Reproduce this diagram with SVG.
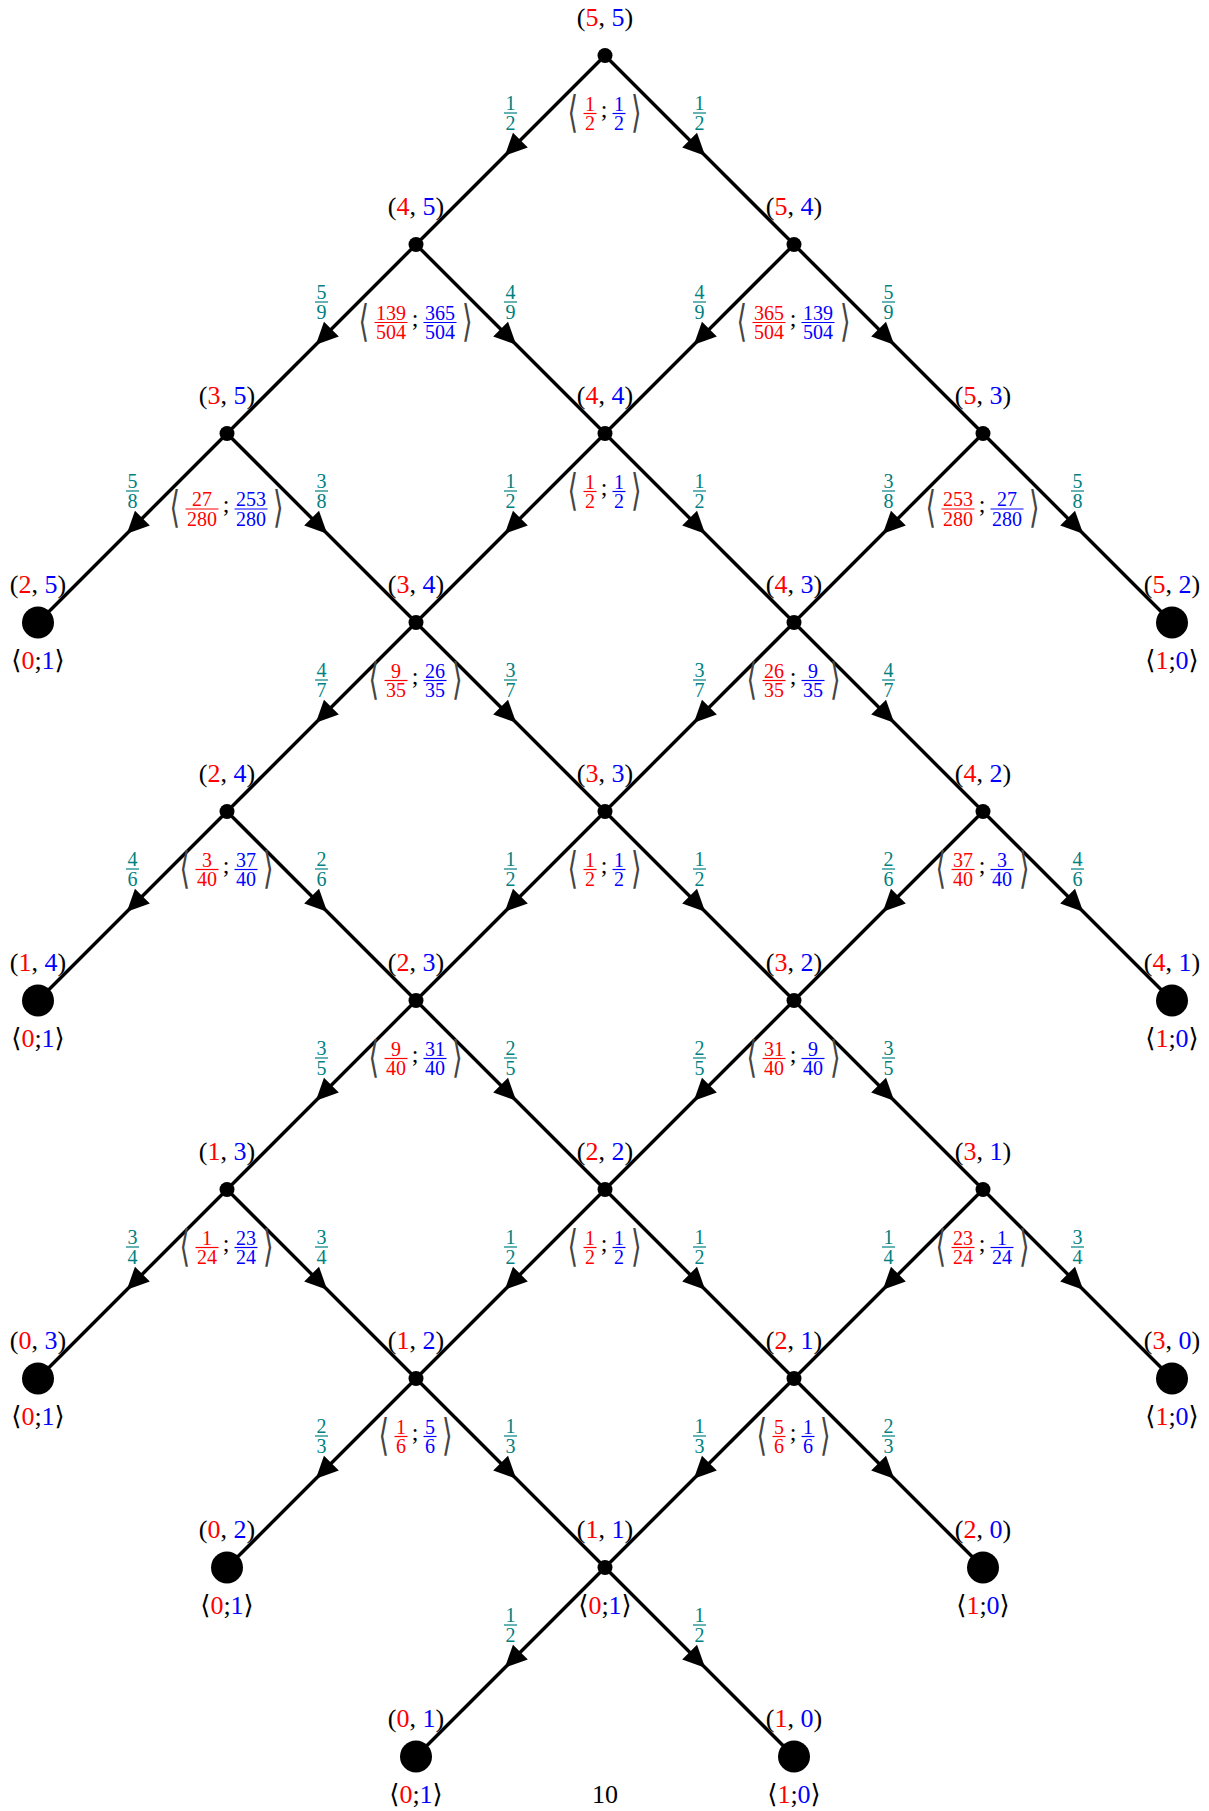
<svg xmlns="http://www.w3.org/2000/svg" width="1209" height="1811" viewBox="0 0 1209 1811">
<style>
.e{stroke:#000;stroke-width:3.4;fill:none;marker-mid:url(#arr)}
.t{font-family:"Liberation Serif","DejaVu Serif",serif;font-size:26px;text-anchor:middle;fill:#000}
.r{fill:#ff0000}
.b{fill:#0000ff}
.q text{font-family:"Liberation Serif",serif;font-size:20px;text-anchor:middle;fill:#008080}
.q path{stroke:#008080;stroke-width:1.2}
.fr text{font-family:"Liberation Serif",serif;font-size:20px;text-anchor:middle}
.fr.r path{stroke:#ff0000;stroke-width:1.2}
.fr.b path{stroke:#0000ff;stroke-width:1.2}
.br{font-family:"DejaVu Sans",sans-serif;font-size:30px;text-anchor:middle;fill:#444}
.sc{font-family:"Liberation Serif",serif;font-size:24px;text-anchor:middle;fill:#000}
</style>
<defs>
<marker id="arr" viewBox="-15 -12 25 24" refX="0" refY="0" markerWidth="25" markerHeight="24" markerUnits="userSpaceOnUse" orient="auto"><path d="M8,0 L-14,-10.5 L-14,10.5 Z" fill="#000"/></marker>
</defs>
<g id="connectors">
<path class="e" d="M605 55.5 L510.5 150 L416 244.5"/>
<path class="e" d="M605 55.5 L699.5 150 L794 244.5"/>
<path class="e" d="M416 244.5 L321.5 339 L227 433.5"/>
<path class="e" d="M416 244.5 L510.5 339 L605 433.5"/>
<path class="e" d="M794 244.5 L699.5 339 L605 433.5"/>
<path class="e" d="M794 244.5 L888.5 339 L983 433.5"/>
<path class="e" d="M227 433.5 L132.5 528 L38 622.5"/>
<path class="e" d="M227 433.5 L321.5 528 L416 622.5"/>
<path class="e" d="M605 433.5 L510.5 528 L416 622.5"/>
<path class="e" d="M605 433.5 L699.5 528 L794 622.5"/>
<path class="e" d="M983 433.5 L888.5 528 L794 622.5"/>
<path class="e" d="M983 433.5 L1077.5 528 L1172 622.5"/>
<path class="e" d="M416 622.5 L321.5 717 L227 811.5"/>
<path class="e" d="M416 622.5 L510.5 717 L605 811.5"/>
<path class="e" d="M794 622.5 L699.5 717 L605 811.5"/>
<path class="e" d="M794 622.5 L888.5 717 L983 811.5"/>
<path class="e" d="M227 811.5 L132.5 906 L38 1000.5"/>
<path class="e" d="M227 811.5 L321.5 906 L416 1000.5"/>
<path class="e" d="M605 811.5 L510.5 906 L416 1000.5"/>
<path class="e" d="M605 811.5 L699.5 906 L794 1000.5"/>
<path class="e" d="M983 811.5 L888.5 906 L794 1000.5"/>
<path class="e" d="M983 811.5 L1077.5 906 L1172 1000.5"/>
<path class="e" d="M416 1000.5 L321.5 1095 L227 1189.5"/>
<path class="e" d="M416 1000.5 L510.5 1095 L605 1189.5"/>
<path class="e" d="M794 1000.5 L699.5 1095 L605 1189.5"/>
<path class="e" d="M794 1000.5 L888.5 1095 L983 1189.5"/>
<path class="e" d="M227 1189.5 L132.5 1284 L38 1378.5"/>
<path class="e" d="M227 1189.5 L321.5 1284 L416 1378.5"/>
<path class="e" d="M605 1189.5 L510.5 1284 L416 1378.5"/>
<path class="e" d="M605 1189.5 L699.5 1284 L794 1378.5"/>
<path class="e" d="M983 1189.5 L888.5 1284 L794 1378.5"/>
<path class="e" d="M983 1189.5 L1077.5 1284 L1172 1378.5"/>
<path class="e" d="M416 1378.5 L321.5 1473 L227 1567.5"/>
<path class="e" d="M416 1378.5 L510.5 1473 L605 1567.5"/>
<path class="e" d="M794 1378.5 L699.5 1473 L605 1567.5"/>
<path class="e" d="M794 1378.5 L888.5 1473 L983 1567.5"/>
<path class="e" d="M605 1567.5 L510.5 1662 L416 1756.5"/>
<path class="e" d="M605 1567.5 L699.5 1662 L794 1756.5"/>
</g>
<g id="edge-labels">
<g class="q" transform="translate(510.5,113)"><text y="-3">1</text><path d="M-6.5 0H6.5"/><text y="16.5">2</text></g>
<g class="q" transform="translate(699.5,113)"><text y="-3">1</text><path d="M-6.5 0H6.5"/><text y="16.5">2</text></g>
<g class="q" transform="translate(321.5,302)"><text y="-3">5</text><path d="M-6.5 0H6.5"/><text y="16.5">9</text></g>
<g class="q" transform="translate(510.5,302)"><text y="-3">4</text><path d="M-6.5 0H6.5"/><text y="16.5">9</text></g>
<g class="q" transform="translate(699.5,302)"><text y="-3">4</text><path d="M-6.5 0H6.5"/><text y="16.5">9</text></g>
<g class="q" transform="translate(888.5,302)"><text y="-3">5</text><path d="M-6.5 0H6.5"/><text y="16.5">9</text></g>
<g class="q" transform="translate(132.5,491)"><text y="-3">5</text><path d="M-6.5 0H6.5"/><text y="16.5">8</text></g>
<g class="q" transform="translate(321.5,491)"><text y="-3">3</text><path d="M-6.5 0H6.5"/><text y="16.5">8</text></g>
<g class="q" transform="translate(510.5,491)"><text y="-3">1</text><path d="M-6.5 0H6.5"/><text y="16.5">2</text></g>
<g class="q" transform="translate(699.5,491)"><text y="-3">1</text><path d="M-6.5 0H6.5"/><text y="16.5">2</text></g>
<g class="q" transform="translate(888.5,491)"><text y="-3">3</text><path d="M-6.5 0H6.5"/><text y="16.5">8</text></g>
<g class="q" transform="translate(1077.5,491)"><text y="-3">5</text><path d="M-6.5 0H6.5"/><text y="16.5">8</text></g>
<g class="q" transform="translate(321.5,680)"><text y="-3">4</text><path d="M-6.5 0H6.5"/><text y="16.5">7</text></g>
<g class="q" transform="translate(510.5,680)"><text y="-3">3</text><path d="M-6.5 0H6.5"/><text y="16.5">7</text></g>
<g class="q" transform="translate(699.5,680)"><text y="-3">3</text><path d="M-6.5 0H6.5"/><text y="16.5">7</text></g>
<g class="q" transform="translate(888.5,680)"><text y="-3">4</text><path d="M-6.5 0H6.5"/><text y="16.5">7</text></g>
<g class="q" transform="translate(132.5,869)"><text y="-3">4</text><path d="M-6.5 0H6.5"/><text y="16.5">6</text></g>
<g class="q" transform="translate(321.5,869)"><text y="-3">2</text><path d="M-6.5 0H6.5"/><text y="16.5">6</text></g>
<g class="q" transform="translate(510.5,869)"><text y="-3">1</text><path d="M-6.5 0H6.5"/><text y="16.5">2</text></g>
<g class="q" transform="translate(699.5,869)"><text y="-3">1</text><path d="M-6.5 0H6.5"/><text y="16.5">2</text></g>
<g class="q" transform="translate(888.5,869)"><text y="-3">2</text><path d="M-6.5 0H6.5"/><text y="16.5">6</text></g>
<g class="q" transform="translate(1077.5,869)"><text y="-3">4</text><path d="M-6.5 0H6.5"/><text y="16.5">6</text></g>
<g class="q" transform="translate(321.5,1058)"><text y="-3">3</text><path d="M-6.5 0H6.5"/><text y="16.5">5</text></g>
<g class="q" transform="translate(510.5,1058)"><text y="-3">2</text><path d="M-6.5 0H6.5"/><text y="16.5">5</text></g>
<g class="q" transform="translate(699.5,1058)"><text y="-3">2</text><path d="M-6.5 0H6.5"/><text y="16.5">5</text></g>
<g class="q" transform="translate(888.5,1058)"><text y="-3">3</text><path d="M-6.5 0H6.5"/><text y="16.5">5</text></g>
<g class="q" transform="translate(132.5,1247)"><text y="-3">3</text><path d="M-6.5 0H6.5"/><text y="16.5">4</text></g>
<g class="q" transform="translate(321.5,1247)"><text y="-3">3</text><path d="M-6.5 0H6.5"/><text y="16.5">4</text></g>
<g class="q" transform="translate(510.5,1247)"><text y="-3">1</text><path d="M-6.5 0H6.5"/><text y="16.5">2</text></g>
<g class="q" transform="translate(699.5,1247)"><text y="-3">1</text><path d="M-6.5 0H6.5"/><text y="16.5">2</text></g>
<g class="q" transform="translate(888.5,1247)"><text y="-3">1</text><path d="M-6.5 0H6.5"/><text y="16.5">4</text></g>
<g class="q" transform="translate(1077.5,1247)"><text y="-3">3</text><path d="M-6.5 0H6.5"/><text y="16.5">4</text></g>
<g class="q" transform="translate(321.5,1436)"><text y="-3">2</text><path d="M-6.5 0H6.5"/><text y="16.5">3</text></g>
<g class="q" transform="translate(510.5,1436)"><text y="-3">1</text><path d="M-6.5 0H6.5"/><text y="16.5">3</text></g>
<g class="q" transform="translate(699.5,1436)"><text y="-3">1</text><path d="M-6.5 0H6.5"/><text y="16.5">3</text></g>
<g class="q" transform="translate(888.5,1436)"><text y="-3">2</text><path d="M-6.5 0H6.5"/><text y="16.5">3</text></g>
<g class="q" transform="translate(510.5,1625)"><text y="-3">1</text><path d="M-6.5 0H6.5"/><text y="16.5">2</text></g>
<g class="q" transform="translate(699.5,1625)"><text y="-3">1</text><path d="M-6.5 0H6.5"/><text y="16.5">2</text></g>
</g>

<g id="n55"><circle cx="605" cy="55.5" r="7.5"/><text class="t" x="605" y="25.5">(<tspan class="r">5</tspan>, <tspan class="b">5</tspan>)</text>
<g transform="translate(604,113.5)"><text class="br" transform="translate(-31.25,13) scale(0.9,1.45)">⟨</text><g class="fr r" transform="translate(-14,0)"><text y="-3">1</text><path d="M-6.5 0H6.5"/><text y="16.5">2</text></g><text class="sc" y="3">;</text><g class="fr b" transform="translate(15,0)"><text y="-3">1</text><path d="M-6.5 0H6.5"/><text y="16.5">2</text></g><text class="br" transform="translate(32.25,13) scale(0.9,1.45)">⟩</text></g></g>

<g id="n45"><circle cx="416" cy="244.5" r="7.5"/><text class="t" x="416" y="214.5">(<tspan class="r">4</tspan>, <tspan class="b">5</tspan>)</text>
<g transform="translate(415,322.5)"><text class="br" transform="translate(-51.25,13) scale(0.9,1.45)">⟨</text><g class="fr r" transform="translate(-24,0)"><text y="-3">139</text><path d="M-16.5 0H16.5"/><text y="16.5">504</text></g><text class="sc" y="3">;</text><g class="fr b" transform="translate(25,0)"><text y="-3">365</text><path d="M-16.5 0H16.5"/><text y="16.5">504</text></g><text class="br" transform="translate(52.25,13) scale(0.9,1.45)">⟩</text></g></g>

<g id="n54"><circle cx="794" cy="244.5" r="7.5"/><text class="t" x="794" y="214.5">(<tspan class="r">5</tspan>, <tspan class="b">4</tspan>)</text>
<g transform="translate(793,322.5)"><text class="br" transform="translate(-51.25,13) scale(0.9,1.45)">⟨</text><g class="fr r" transform="translate(-24,0)"><text y="-3">365</text><path d="M-16.5 0H16.5"/><text y="16.5">504</text></g><text class="sc" y="3">;</text><g class="fr b" transform="translate(25,0)"><text y="-3">139</text><path d="M-16.5 0H16.5"/><text y="16.5">504</text></g><text class="br" transform="translate(52.25,13) scale(0.9,1.45)">⟩</text></g></g>

<g id="n35"><circle cx="227" cy="433.5" r="7.5"/><text class="t" x="227" y="403.5">(<tspan class="r">3</tspan>, <tspan class="b">5</tspan>)</text>
<g transform="translate(226,509)"><text class="br" transform="translate(-51.25,13) scale(0.9,1.45)">⟨</text><g class="fr r" transform="translate(-24,0)"><text y="-3">27</text><path d="M-16.5 0H16.5"/><text y="16.5">280</text></g><text class="sc" y="3">;</text><g class="fr b" transform="translate(25,0)"><text y="-3">253</text><path d="M-16.5 0H16.5"/><text y="16.5">280</text></g><text class="br" transform="translate(52.25,13) scale(0.9,1.45)">⟩</text></g></g>

<g id="n44"><circle cx="605" cy="433.5" r="7.5"/><text class="t" x="605" y="403.5">(<tspan class="r">4</tspan>, <tspan class="b">4</tspan>)</text>
<g transform="translate(604,491.5)"><text class="br" transform="translate(-31.25,13) scale(0.9,1.45)">⟨</text><g class="fr r" transform="translate(-14,0)"><text y="-3">1</text><path d="M-6.5 0H6.5"/><text y="16.5">2</text></g><text class="sc" y="3">;</text><g class="fr b" transform="translate(15,0)"><text y="-3">1</text><path d="M-6.5 0H6.5"/><text y="16.5">2</text></g><text class="br" transform="translate(32.25,13) scale(0.9,1.45)">⟩</text></g></g>

<g id="n53"><circle cx="983" cy="433.5" r="7.5"/><text class="t" x="983" y="403.5">(<tspan class="r">5</tspan>, <tspan class="b">3</tspan>)</text>
<g transform="translate(982,509)"><text class="br" transform="translate(-51.25,13) scale(0.9,1.45)">⟨</text><g class="fr r" transform="translate(-24,0)"><text y="-3">253</text><path d="M-16.5 0H16.5"/><text y="16.5">280</text></g><text class="sc" y="3">;</text><g class="fr b" transform="translate(25,0)"><text y="-3">27</text><path d="M-16.5 0H16.5"/><text y="16.5">280</text></g><text class="br" transform="translate(52.25,13) scale(0.9,1.45)">⟩</text></g></g>

<g id="n25"><circle cx="38" cy="622.5" r="16"/><text class="t" x="38" y="592.5">(<tspan class="r">2</tspan>, <tspan class="b">5</tspan>)</text><text class="t" x="38" y="668.5">⟨<tspan class="r">0</tspan>;<tspan class="b">1</tspan>⟩</text></g>

<g id="n34"><circle cx="416" cy="622.5" r="7.5"/><text class="t" x="416" y="592.5">(<tspan class="r">3</tspan>, <tspan class="b">4</tspan>)</text>
<g transform="translate(415,680.5)"><text class="br" transform="translate(-41.25,13) scale(0.9,1.45)">⟨</text><g class="fr r" transform="translate(-19,0)"><text y="-3">9</text><path d="M-11.5 0H11.5"/><text y="16.5">35</text></g><text class="sc" y="3">;</text><g class="fr b" transform="translate(20,0)"><text y="-3">26</text><path d="M-11.5 0H11.5"/><text y="16.5">35</text></g><text class="br" transform="translate(42.25,13) scale(0.9,1.45)">⟩</text></g></g>

<g id="n43"><circle cx="794" cy="622.5" r="7.5"/><text class="t" x="794" y="592.5">(<tspan class="r">4</tspan>, <tspan class="b">3</tspan>)</text>
<g transform="translate(793,680.5)"><text class="br" transform="translate(-41.25,13) scale(0.9,1.45)">⟨</text><g class="fr r" transform="translate(-19,0)"><text y="-3">26</text><path d="M-11.5 0H11.5"/><text y="16.5">35</text></g><text class="sc" y="3">;</text><g class="fr b" transform="translate(20,0)"><text y="-3">9</text><path d="M-11.5 0H11.5"/><text y="16.5">35</text></g><text class="br" transform="translate(42.25,13) scale(0.9,1.45)">⟩</text></g></g>

<g id="n52"><circle cx="1172" cy="622.5" r="16"/><text class="t" x="1172" y="592.5">(<tspan class="r">5</tspan>, <tspan class="b">2</tspan>)</text><text class="t" x="1172" y="668.5">⟨<tspan class="r">1</tspan>;<tspan class="b">0</tspan>⟩</text></g>

<g id="n24"><circle cx="227" cy="811.5" r="7.5"/><text class="t" x="227" y="781.5">(<tspan class="r">2</tspan>, <tspan class="b">4</tspan>)</text>
<g transform="translate(226,869.5)"><text class="br" transform="translate(-41.25,13) scale(0.9,1.45)">⟨</text><g class="fr r" transform="translate(-19,0)"><text y="-3">3</text><path d="M-11.5 0H11.5"/><text y="16.5">40</text></g><text class="sc" y="3">;</text><g class="fr b" transform="translate(20,0)"><text y="-3">37</text><path d="M-11.5 0H11.5"/><text y="16.5">40</text></g><text class="br" transform="translate(42.25,13) scale(0.9,1.45)">⟩</text></g></g>

<g id="n33"><circle cx="605" cy="811.5" r="7.5"/><text class="t" x="605" y="781.5">(<tspan class="r">3</tspan>, <tspan class="b">3</tspan>)</text>
<g transform="translate(604,869.5)"><text class="br" transform="translate(-31.25,13) scale(0.9,1.45)">⟨</text><g class="fr r" transform="translate(-14,0)"><text y="-3">1</text><path d="M-6.5 0H6.5"/><text y="16.5">2</text></g><text class="sc" y="3">;</text><g class="fr b" transform="translate(15,0)"><text y="-3">1</text><path d="M-6.5 0H6.5"/><text y="16.5">2</text></g><text class="br" transform="translate(32.25,13) scale(0.9,1.45)">⟩</text></g></g>

<g id="n42"><circle cx="983" cy="811.5" r="7.5"/><text class="t" x="983" y="781.5">(<tspan class="r">4</tspan>, <tspan class="b">2</tspan>)</text>
<g transform="translate(982,869.5)"><text class="br" transform="translate(-41.25,13) scale(0.9,1.45)">⟨</text><g class="fr r" transform="translate(-19,0)"><text y="-3">37</text><path d="M-11.5 0H11.5"/><text y="16.5">40</text></g><text class="sc" y="3">;</text><g class="fr b" transform="translate(20,0)"><text y="-3">3</text><path d="M-11.5 0H11.5"/><text y="16.5">40</text></g><text class="br" transform="translate(42.25,13) scale(0.9,1.45)">⟩</text></g></g>

<g id="n14"><circle cx="38" cy="1000.5" r="16"/><text class="t" x="38" y="970.5">(<tspan class="r">1</tspan>, <tspan class="b">4</tspan>)</text><text class="t" x="38" y="1046.5">⟨<tspan class="r">0</tspan>;<tspan class="b">1</tspan>⟩</text></g>

<g id="n23"><circle cx="416" cy="1000.5" r="7.5"/><text class="t" x="416" y="970.5">(<tspan class="r">2</tspan>, <tspan class="b">3</tspan>)</text>
<g transform="translate(415,1058.5)"><text class="br" transform="translate(-41.25,13) scale(0.9,1.45)">⟨</text><g class="fr r" transform="translate(-19,0)"><text y="-3">9</text><path d="M-11.5 0H11.5"/><text y="16.5">40</text></g><text class="sc" y="3">;</text><g class="fr b" transform="translate(20,0)"><text y="-3">31</text><path d="M-11.5 0H11.5"/><text y="16.5">40</text></g><text class="br" transform="translate(42.25,13) scale(0.9,1.45)">⟩</text></g></g>

<g id="n32"><circle cx="794" cy="1000.5" r="7.5"/><text class="t" x="794" y="970.5">(<tspan class="r">3</tspan>, <tspan class="b">2</tspan>)</text>
<g transform="translate(793,1058.5)"><text class="br" transform="translate(-41.25,13) scale(0.9,1.45)">⟨</text><g class="fr r" transform="translate(-19,0)"><text y="-3">31</text><path d="M-11.5 0H11.5"/><text y="16.5">40</text></g><text class="sc" y="3">;</text><g class="fr b" transform="translate(20,0)"><text y="-3">9</text><path d="M-11.5 0H11.5"/><text y="16.5">40</text></g><text class="br" transform="translate(42.25,13) scale(0.9,1.45)">⟩</text></g></g>

<g id="n41"><circle cx="1172" cy="1000.5" r="16"/><text class="t" x="1172" y="970.5">(<tspan class="r">4</tspan>, <tspan class="b">1</tspan>)</text><text class="t" x="1172" y="1046.5">⟨<tspan class="r">1</tspan>;<tspan class="b">0</tspan>⟩</text></g>

<g id="n13"><circle cx="227" cy="1189.5" r="7.5"/><text class="t" x="227" y="1159.5">(<tspan class="r">1</tspan>, <tspan class="b">3</tspan>)</text>
<g transform="translate(226,1247.5)"><text class="br" transform="translate(-41.25,13) scale(0.9,1.45)">⟨</text><g class="fr r" transform="translate(-19,0)"><text y="-3">1</text><path d="M-11.5 0H11.5"/><text y="16.5">24</text></g><text class="sc" y="3">;</text><g class="fr b" transform="translate(20,0)"><text y="-3">23</text><path d="M-11.5 0H11.5"/><text y="16.5">24</text></g><text class="br" transform="translate(42.25,13) scale(0.9,1.45)">⟩</text></g></g>

<g id="n22"><circle cx="605" cy="1189.5" r="7.5"/><text class="t" x="605" y="1159.5">(<tspan class="r">2</tspan>, <tspan class="b">2</tspan>)</text>
<g transform="translate(604,1247.5)"><text class="br" transform="translate(-31.25,13) scale(0.9,1.45)">⟨</text><g class="fr r" transform="translate(-14,0)"><text y="-3">1</text><path d="M-6.5 0H6.5"/><text y="16.5">2</text></g><text class="sc" y="3">;</text><g class="fr b" transform="translate(15,0)"><text y="-3">1</text><path d="M-6.5 0H6.5"/><text y="16.5">2</text></g><text class="br" transform="translate(32.25,13) scale(0.9,1.45)">⟩</text></g></g>

<g id="n31"><circle cx="983" cy="1189.5" r="7.5"/><text class="t" x="983" y="1159.5">(<tspan class="r">3</tspan>, <tspan class="b">1</tspan>)</text>
<g transform="translate(982,1247.5)"><text class="br" transform="translate(-41.25,13) scale(0.9,1.45)">⟨</text><g class="fr r" transform="translate(-19,0)"><text y="-3">23</text><path d="M-11.5 0H11.5"/><text y="16.5">24</text></g><text class="sc" y="3">;</text><g class="fr b" transform="translate(20,0)"><text y="-3">1</text><path d="M-11.5 0H11.5"/><text y="16.5">24</text></g><text class="br" transform="translate(42.25,13) scale(0.9,1.45)">⟩</text></g></g>

<g id="n03"><circle cx="38" cy="1378.5" r="16"/><text class="t" x="38" y="1348.5">(<tspan class="r">0</tspan>, <tspan class="b">3</tspan>)</text><text class="t" x="38" y="1424.5">⟨<tspan class="r">0</tspan>;<tspan class="b">1</tspan>⟩</text></g>

<g id="n12"><circle cx="416" cy="1378.5" r="7.5"/><text class="t" x="416" y="1348.5">(<tspan class="r">1</tspan>, <tspan class="b">2</tspan>)</text>
<g transform="translate(415,1436.5)"><text class="br" transform="translate(-31.25,13) scale(0.9,1.45)">⟨</text><g class="fr r" transform="translate(-14,0)"><text y="-3">1</text><path d="M-6.5 0H6.5"/><text y="16.5">6</text></g><text class="sc" y="3">;</text><g class="fr b" transform="translate(15,0)"><text y="-3">5</text><path d="M-6.5 0H6.5"/><text y="16.5">6</text></g><text class="br" transform="translate(32.25,13) scale(0.9,1.45)">⟩</text></g></g>

<g id="n21"><circle cx="794" cy="1378.5" r="7.5"/><text class="t" x="794" y="1348.5">(<tspan class="r">2</tspan>, <tspan class="b">1</tspan>)</text>
<g transform="translate(793,1436.5)"><text class="br" transform="translate(-31.25,13) scale(0.9,1.45)">⟨</text><g class="fr r" transform="translate(-14,0)"><text y="-3">5</text><path d="M-6.5 0H6.5"/><text y="16.5">6</text></g><text class="sc" y="3">;</text><g class="fr b" transform="translate(15,0)"><text y="-3">1</text><path d="M-6.5 0H6.5"/><text y="16.5">6</text></g><text class="br" transform="translate(32.25,13) scale(0.9,1.45)">⟩</text></g></g>

<g id="n30"><circle cx="1172" cy="1378.5" r="16"/><text class="t" x="1172" y="1348.5">(<tspan class="r">3</tspan>, <tspan class="b">0</tspan>)</text><text class="t" x="1172" y="1424.5">⟨<tspan class="r">1</tspan>;<tspan class="b">0</tspan>⟩</text></g>

<g id="n02"><circle cx="227" cy="1567.5" r="16"/><text class="t" x="227" y="1537.5">(<tspan class="r">0</tspan>, <tspan class="b">2</tspan>)</text><text class="t" x="227" y="1613.5">⟨<tspan class="r">0</tspan>;<tspan class="b">1</tspan>⟩</text></g>

<g id="n11"><circle cx="605" cy="1567.5" r="7.5"/><text class="t" x="605" y="1537.5">(<tspan class="r">1</tspan>, <tspan class="b">1</tspan>)</text><text class="t" x="605" y="1613.5">⟨<tspan class="r">0</tspan>;<tspan class="b">1</tspan>⟩</text></g>

<g id="n20"><circle cx="983" cy="1567.5" r="16"/><text class="t" x="983" y="1537.5">(<tspan class="r">2</tspan>, <tspan class="b">0</tspan>)</text><text class="t" x="983" y="1613.5">⟨<tspan class="r">1</tspan>;<tspan class="b">0</tspan>⟩</text></g>

<g id="n01"><circle cx="416" cy="1756.5" r="16"/><text class="t" x="416" y="1726.5">(<tspan class="r">0</tspan>, <tspan class="b">1</tspan>)</text><text class="t" x="416" y="1802.5">⟨<tspan class="r">0</tspan>;<tspan class="b">1</tspan>⟩</text></g>

<g id="n10"><circle cx="794" cy="1756.5" r="16"/><text class="t" x="794" y="1726.5">(<tspan class="r">1</tspan>, <tspan class="b">0</tspan>)</text><text class="t" x="794" y="1802.5">⟨<tspan class="r">1</tspan>;<tspan class="b">0</tspan>⟩</text></g>

<text class="t" x="605" y="1803" style="font-size:26px">10</text>
</svg>
